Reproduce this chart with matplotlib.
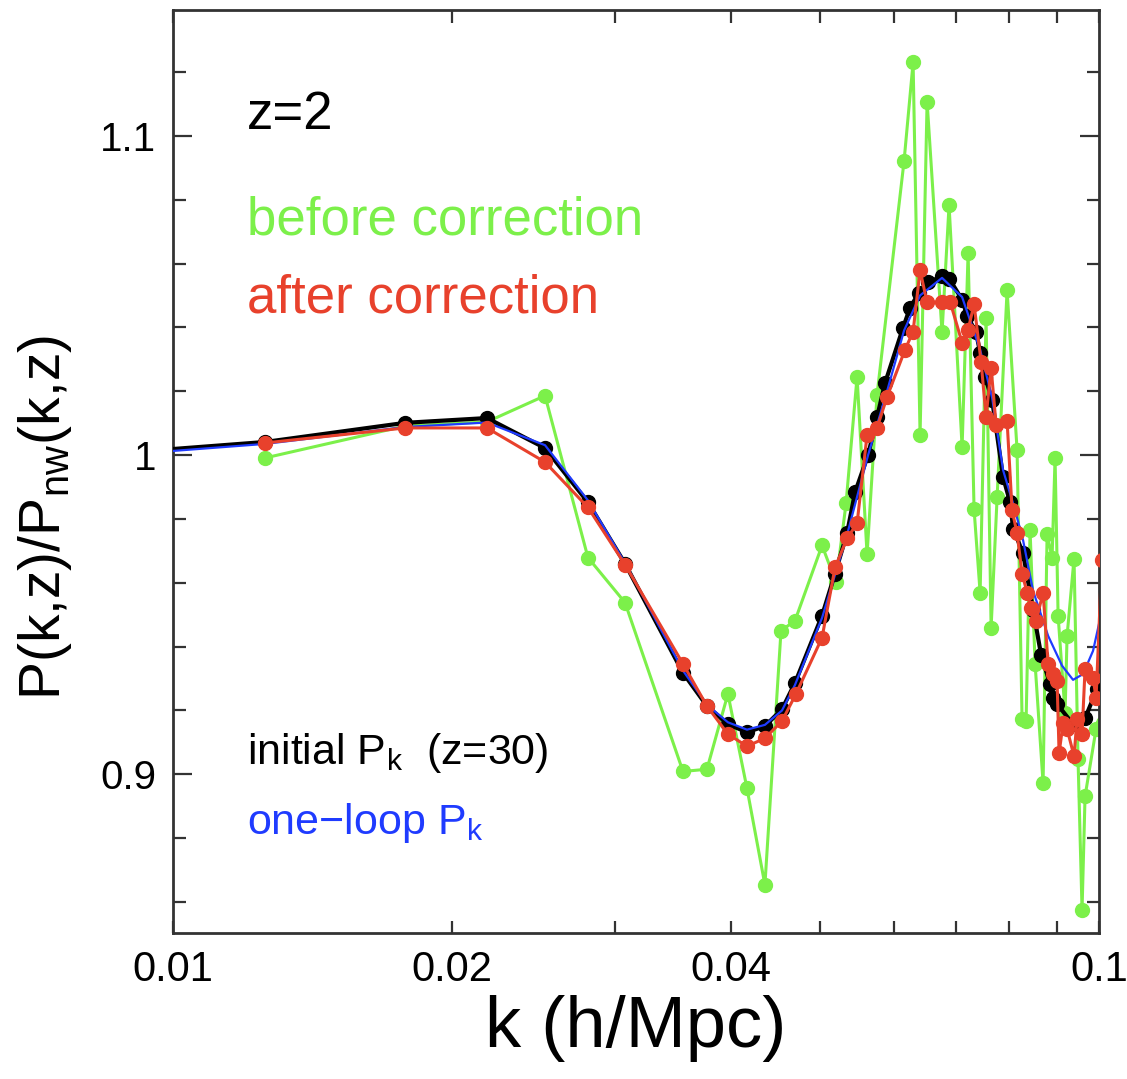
import matplotlib
matplotlib.use("Agg")
import matplotlib.pyplot as plt
from matplotlib.ticker import FixedLocator, NullFormatter

plt.rcParams['font.family'] = ['Liberation Sans', 'DejaVu Sans']
plt.rcParams['mathtext.fontset'] = 'custom'
plt.rcParams['mathtext.rm'] = 'Liberation Sans'
plt.rcParams['mathtext.it'] = 'Liberation Sans'

# initial P_k (z=30): black curve with dots (first/last entries are the curve ends, no dot)
k_init = [0.0100, 0.01257, 0.01781, 0.02183, 0.02522, 0.02806, 0.03077, 0.03554, 0.03772,
          0.03974, 0.04167, 0.04357, 0.04546, 0.04695, 0.05022, 0.05187, 0.05344, 0.05452,
          0.05631, 0.05758, 0.05874, 0.06143, 0.06251, 0.06392, 0.06537, 0.06768, 0.06887,
          0.07114, 0.07203, 0.07366, 0.07440, 0.07533, 0.07665, 0.07877, 0.08016, 0.08076,
          0.08279, 0.08487, 0.08658, 0.08854, 0.08920, 0.09009, 0.09374, 0.09658, 0.09950,
          0.1005]
r_init = [1.0019, 1.0041, 1.0101, 1.0116, 1.0022, 0.9852, 0.9660, 0.9318, 0.9214,
          0.9157, 0.9132, 0.9151, 0.9204, 0.9286, 0.9497, 0.9629, 0.9755, 0.9884,
          1.0000, 1.0119, 1.0226, 1.0399, 1.0462, 1.0509, 1.0541, 1.0560, 1.0553,
          1.0487, 1.0437, 1.0384, 1.0321, 1.0245, 1.0173, 0.9931, 0.9852, 0.9770,
          0.9692, 0.9516, 0.9374, 0.9283, 0.9239, 0.9220, 0.9157, 0.9176, 0.9267,
          0.9290]

# one-loop P_k: blue curve
k_loop = [0.0100, 0.01257, 0.01781, 0.02183, 0.02522, 0.02806, 0.03077, 0.03554, 0.03772,
          0.03974, 0.04167, 0.04357, 0.04546, 0.04695, 0.05022, 0.05344, 0.05631, 0.05903,
          0.06158, 0.06408, 0.06768, 0.07114, 0.07440, 0.07665, 0.07877, 0.08116, 0.08279,
          0.08487, 0.08810, 0.09122, 0.09374, 0.09610, 0.09852, 0.1000]
r_loop = [1.0013, 1.0035, 1.0088, 1.0102, 1.0031, 0.9858, 0.9662, 0.9325, 0.9218,
          0.9163, 0.9140, 0.9155, 0.9200, 0.9280, 0.9490, 0.9750, 1.0000, 1.0200,
          1.0390, 1.0500, 1.0555, 1.0495, 1.0330, 1.0180, 0.9953, 0.9827, 0.9733,
          0.9575, 0.9434, 0.9340, 0.9296, 0.9314, 0.9387, 0.9472]

# before correction: green
k_before = [0.01257, 0.01781, 0.02183, 0.02522, 0.02806, 0.03077, 0.03554, 0.03772, 0.03974,
            0.04167, 0.04357, 0.04535, 0.04695, 0.05022, 0.05200, 0.05331, 0.05479, 0.05617,
            0.05758, 0.06158, 0.06298, 0.06408, 0.06521, 0.06768, 0.06887, 0.07114, 0.07221,
            0.07329, 0.07440, 0.07551, 0.07646, 0.07761, 0.07956, 0.08156, 0.08258, 0.08341,
            0.08424, 0.08530, 0.08701, 0.08788, 0.08898, 0.08964, 0.09032, 0.09190, 0.09236,
            0.09397, 0.09491, 0.09586, 0.09658, 0.09926, 0.1010]
r_before = [0.9991, 1.0091, 1.0104, 1.0186, 0.9679, 0.9538, 0.9009, 0.9016, 0.9252,
            0.8956, 0.8654, 0.9450, 0.9481, 0.9717, 0.9601, 0.9849, 1.0245, 0.9689,
            1.0189, 1.0921, 1.1230, 1.0063, 1.1107, 1.0384, 1.0783, 1.0025, 1.0632,
            0.9830, 0.9569, 1.0428, 0.9459, 0.9868, 1.0516, 1.0016, 0.9173, 0.9167,
            0.9764, 0.9346, 0.8972, 0.9752, 0.9679, 0.9991, 0.9497, 0.9192, 0.9434,
            0.9676, 0.9047, 0.8575, 0.8931, 0.9142, 0.9160]

# after correction: red
k_after = [0.01257, 0.01781, 0.02183, 0.02522, 0.02806, 0.03077, 0.03554, 0.03772, 0.03974,
           0.04167, 0.04357, 0.04546, 0.04707, 0.05022, 0.05187, 0.05344, 0.05479, 0.05617,
           0.05758, 0.05903, 0.06173, 0.06298, 0.06408, 0.06521, 0.06768, 0.06904, 0.07114,
           0.07221, 0.07329, 0.07458, 0.07551, 0.07646, 0.07742, 0.07956, 0.08056, 0.08156,
           0.08258, 0.08362, 0.08445, 0.08551, 0.08701, 0.08810, 0.08920, 0.09009, 0.09054,
           0.09145, 0.09236, 0.09397, 0.09468, 0.09586, 0.09658, 0.09852, 0.09926, 0.1007]
r_after = [1.0038, 1.0085, 1.0085, 0.9978, 0.9836, 0.9657, 0.9346, 0.9214, 0.9126,
           0.9088, 0.9113, 0.9167, 0.9252, 0.9428, 0.9648, 0.9739, 0.9786, 1.0063,
           1.0085, 1.0182, 1.0330, 1.0387, 1.0579, 1.0478, 1.0478, 1.0481, 1.0352,
           1.0393, 1.0472, 1.0292, 1.0119, 1.0274, 1.0094, 1.0107, 0.9827, 0.9755,
           0.9629, 0.9569, 0.9522, 0.9481, 0.9569, 0.9346, 0.9314, 0.9292, 0.9066,
           0.9160, 0.9142, 0.9057, 0.9173, 0.9126, 0.9330, 0.9302, 0.9239, 0.9670]

green = '#7cf04a'
red = '#e8412c'
blue = '#1f3bff'

fig = plt.figure(figsize=(11.27, 10.79), dpi=100)
ax = fig.add_axes([0.1535, 0.1353, 0.8217, 0.8554])

ax.plot(k_before, r_before, '-o', color=green, lw=2.2, ms=10, zorder=2)
ax.plot(k_init, r_init, '-o', color='black', lw=3, ms=10,
        markevery=list(range(1, len(k_init) - 1)), zorder=3)
ax.plot(k_loop, r_loop, '-', color=blue, lw=1.6, zorder=4)
ax.plot(k_after, r_after, '-o', color=red, lw=2.2, ms=10, zorder=5)

ax.set_xscale('log')
ax.set_xlim(0.01, 0.1)
ax.set_ylim(0.8503, 1.1394)

ax.xaxis.set_major_locator(FixedLocator([0.01, 0.02, 0.04, 0.1]))
ax.set_xticklabels(['0.01', '0.02', '0.04', '0.1'])
ax.xaxis.set_minor_locator(FixedLocator([0.03, 0.05, 0.06, 0.07, 0.08, 0.09]))
ax.xaxis.set_minor_formatter(NullFormatter())
ax.yaxis.set_major_locator(FixedLocator([0.9, 1.0, 1.1]))
ax.set_yticklabels(['0.9', '1', '1.1'])
ax.yaxis.set_minor_locator(FixedLocator([0.86, 0.88, 0.92, 0.94, 0.96, 0.98,
                                         1.02, 1.04, 1.06, 1.08, 1.12]))

ax.tick_params(axis='both', which='both', direction='in', top=True, right=True,
               width=1.6, color='#333333', pad=12)
ax.tick_params(axis='x', labelsize=30)
ax.tick_params(axis='y', labelsize=29)
ax.tick_params(axis='y', which='major', length=14)
ax.tick_params(axis='y', which='minor', length=9)
ax.tick_params(axis='x', which='both', length=9)
for s in ax.spines.values():
    s.set_linewidth(2)
    s.set_color('#333333')

ax.set_xlabel('k (h/Mpc)', fontsize=52, labelpad=4)
fig.text(0.040, 0.52, r'P(k,z)/P$_{\mathrm{nw}}$(k,z)', rotation=90,
         fontsize=41, ha='center', va='center')

x_txt = 0.01202
ax.text(x_txt, 1.1022, 'z=2', fontsize=38, color='black')
ax.text(x_txt, 1.0692, 'before correction', fontsize=38, color=green)
ax.text(x_txt, 1.0447, 'after correction', fontsize=38, color=red)
ax.text(x_txt, 0.9031, r'initial P$_{\mathrm{k}}$  (z=30)', fontsize=31, color='black')
ax.text(x_txt, 0.8814, r'one$-$loop P$_{\mathrm{k}}$', fontsize=31, color=blue)

fig.savefig('out.png', dpi=100)
